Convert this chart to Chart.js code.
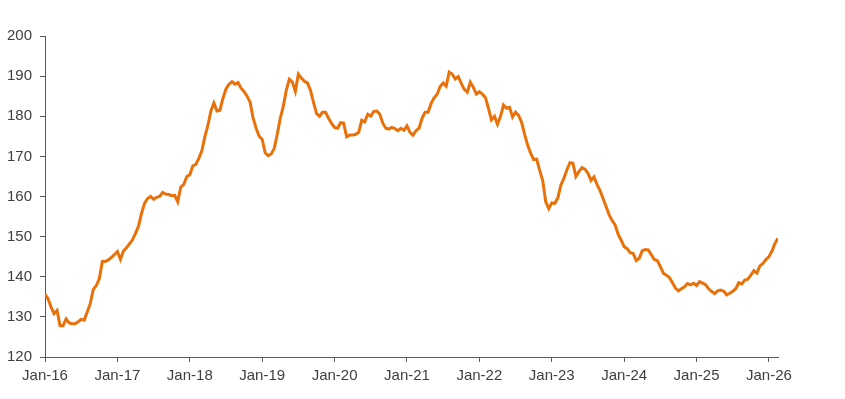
<!DOCTYPE html>
<html>
<head>
<meta charset="utf-8">
<script src="https://cdn.jsdelivr.net/npm/chart.js@4"></script>
<style>
  body { margin: 0; background: #fff; }
  #wrap { width: 845px; height: 399px; }
</style>
</head>
<body>
<div id="wrap"><canvas id="priceChart"></canvas></div>
<script>
// half-monthly readings, starting Jan 2016
const startYear = 2016;
const stepMonths = 0.5;
const values = [
  135.6, 134.5, 132.5, 130.8, 131.6, 127.8, 127.8, 129.5, 128.5, 128.3,
  128.3, 128.8, 129.4, 129.2, 131.2, 133.3, 136.8, 137.8, 139.5, 143.8,
  143.8, 144.2, 144.8, 145.5, 146.3, 144.3, 146.4, 147.2, 148.2, 149.2,
  150.8, 152.6, 155.8, 158.3, 159.5, 160.0, 159.3, 159.8, 160.0, 161.0,
  160.6, 160.5, 160.2, 160.3, 158.7, 162.3, 163.0, 165.0, 165.4, 167.6,
  168.0, 169.5, 171.4, 174.9, 177.7, 181.3, 183.3, 181.3, 181.5, 184.5,
  186.8, 188.0, 188.6, 188.0, 188.4, 187.0, 186.1, 185.0, 183.5, 179.5,
  177.0, 175.0, 174.2, 170.9, 170.2, 170.6, 172.0, 175.5, 179.5, 182.5,
  186.5, 189.2, 188.5, 186.2, 190.5, 189.5, 188.7, 188.3, 186.5, 183.5,
  180.7, 180.0, 181.0, 181.0, 179.5, 178.2, 177.2, 177.0, 178.4, 178.3,
  174.9, 175.3, 175.3, 175.5, 176.0, 179.0, 178.6, 180.5, 180.0, 181.2,
  181.3, 180.5, 178.2, 177.0, 176.8, 177.2, 176.9, 176.4, 177.0, 176.5,
  177.6, 176.0, 175.3, 176.4, 177.0, 179.5, 181.0, 181.0, 183.2, 184.6,
  185.5, 187.4, 188.3, 187.5, 191.0, 190.5, 189.3, 189.9, 188.2, 186.7,
  186.0, 188.5, 187.2, 185.5, 186.1, 185.5, 184.7, 182.0, 179.1, 180.0,
  178.0, 179.9, 182.8, 182.0, 182.2, 179.8, 181.0, 180.2, 178.5, 175.5,
  172.8, 170.8, 169.2, 169.3, 166.5, 164.0, 158.7, 157.0, 158.4, 158.3,
  159.6, 162.8, 164.5, 166.6, 168.4, 168.3, 165.0, 166.2, 167.2, 166.8,
  165.8, 164.0, 164.9, 163.0, 161.5, 159.5, 157.5, 155.5, 154.0, 152.9,
  150.6, 149.1, 147.5, 147.0, 146.0, 145.8, 144.0, 144.6, 146.5, 146.8,
  146.7, 145.5, 144.3, 144.0, 142.5, 140.9, 140.4, 139.8, 138.5, 137.2,
  136.5, 137.0, 137.5, 138.3, 138.0, 138.4, 137.8, 138.8, 138.4, 138.0,
  137.0, 136.3, 135.8, 136.5, 136.7, 136.4, 135.5, 135.9, 136.4, 137.0,
  138.5, 138.2, 139.2, 139.4, 140.4, 141.5, 140.9, 142.7, 143.3, 144.3,
  145.0, 146.4, 148.3, 149.6
];
const tickLabels = ["Jan-16", "Jan-17", "Jan-18", "Jan-19", "Jan-20", "Jan-21",
  "Jan-22", "Jan-23", "Jan-24", "Jan-25", "Jan-26"];
const yTicks = [120, 130, 140, 150, 160, 170, 180, 190, 200];

const points = values.map((v, i) => ({ x: i * stepMonths, y: v }));
const lastX = (values.length - 1) * stepMonths;

const axisColor = "#595959";
const textColor = "#404040";

var ctx = document.getElementById("priceChart").getContext("2d");
var priceChart = new Chart(ctx, {
  type: "line",
  data: {
    datasets: [
      {
        data: points,
        borderColor: "#E8710A",
        borderWidth: 3,
        pointRadius: 0,
        tension: 0,
        fill: false,
      },
    ],
  },
  options: {
    responsive: true,
    maintainAspectRatio: false,
    animation: false,
    layout: { padding: { top: 36, right: 67, left: 0, bottom: 0 } },
    plugins: { legend: { display: false }, tooltip: { enabled: false } },
    scales: {
      x: {
        type: "linear",
        min: 0,
        max: lastX,
        afterBuildTicks: (scale) => {
          scale.ticks = tickLabels.map((_, i) => ({ value: i * 12 }));
        },
        afterFit: (scale) => { scale.height = 42; },
        ticks: {
          color: textColor,
          font: { family: "Liberation Sans", size: 15 },
          padding: 5,
          maxRotation: 0,
          autoSkip: false,
          callback: (v) => tickLabels[Math.round(v / 12)],
        },
        grid: {
          drawOnChartArea: false,
          drawTicks: true,
          tickLength: 5,
          color: axisColor,
        },
        border: { display: true, color: axisColor, width: 1 },
      },
      y: {
        min: 120,
        max: 200,
        afterBuildTicks: (scale) => {
          scale.ticks = yTicks.map((v) => ({ value: v }));
        },
        afterFit: (scale) => { scale.width = 45; },
        ticks: {
          color: textColor,
          font: { family: "Liberation Sans", size: 15 },
          padding: 8,
        },
        grid: {
          drawOnChartArea: false,
          drawTicks: true,
          tickLength: 5,
          color: axisColor,
        },
        border: { display: true, color: axisColor, width: 1 },
      },
    },
  },
});
</script>
</body>
</html>
